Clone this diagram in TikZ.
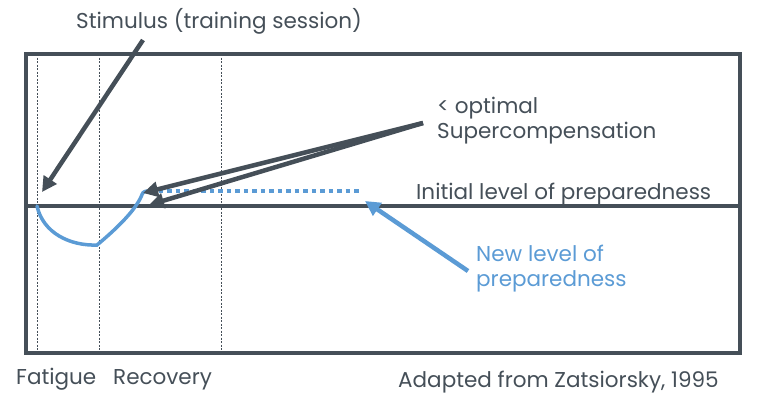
\documentclass[tikz,border=0pt]{standalone}
\usepackage{fontspec}
\setmainfont{Poppins}
\usetikzlibrary{arrows.meta}
\definecolor{slate}{HTML}{454F58}
\definecolor{sky}{HTML}{5B9BD5}
\begin{document}
\begin{tikzpicture}[x=1pt,y=-1pt,
  lbl/.style={inner sep=0pt,font=\fontsize{21.5}{24.5}\selectfont,text=slate},
  frame/.style={draw=slate,line width=4pt},
  guide/.style={draw=slate,line width=0.5pt,dash pattern=on 2pt off 1.5pt},
  darrow/.style={draw=slate,line width=4.5pt,-{Triangle[length=15pt,width=15pt]}},
  barrow/.style={draw=sky,line width=4.5pt,-{Triangle[length=15pt,width=15pt]}},
  curve/.style={draw=sky,line width=3.5pt,line cap=round},
  dotline/.style={draw=sky,line width=4.5pt,dash pattern=on 4.5pt off 4pt}]
\useasboundingbox (0,0) rectangle (781,402);

% time phase guides
\draw[guide] (37,54) -- (37,353);
\draw[guide] (99,54) -- (99,353);
\draw[guide] (221,54) -- (221,353);

% chart frame and baseline
\draw[frame] (26,54) rectangle (740,353);
\draw[frame] (26,206) -- (740,206);

% fatigue / recovery curve and supercompensation level
\draw[curve] (37,206) .. controls (43,233) and (70,246) .. (97,245)
  .. controls (115,230) and (134,212) .. (141,197)
  .. controls (143,192) .. (147,191);
\draw[dotline] (150,191) -- (360,191);

% labels
\node[lbl,anchor=base] (stim) at (219,28) {Stimulus (training session)};
\node[lbl,anchor=base west,align=left] (opt) at (437,138) {< optimal\\Supercompensation};
\node[lbl,anchor=base west] (init) at (416,199) {Initial level of preparedness};
\node[lbl,anchor=base west,align=left,text=sky] (newl) at (476,286) {New level of\\preparedness};
\node[lbl,anchor=base west] (fat) at (16,384) {Fatigue};
\node[lbl,anchor=base west] (rec) at (113,384) {Recovery};
\node[lbl,anchor=base west] (src) at (398,387) {Adapted from Zatsiorsky, 1995};

% arrow anchor points
\coordinate (stimS) at (143,40);
\coordinate (stimE) at (42,192);
\coordinate (optS) at (423,123);
\coordinate (optE1) at (143,193);
\coordinate (optE2) at (149,205);
\coordinate (newS) at (468,271);
\coordinate (newE) at (365,201);

\draw[darrow] (stimS) -- (stimE);
\draw[darrow] (optS) -- (optE1);
\draw[darrow] (optS) -- (optE2);
\draw[barrow] (newS) -- (newE);
\end{tikzpicture}
\end{document}
